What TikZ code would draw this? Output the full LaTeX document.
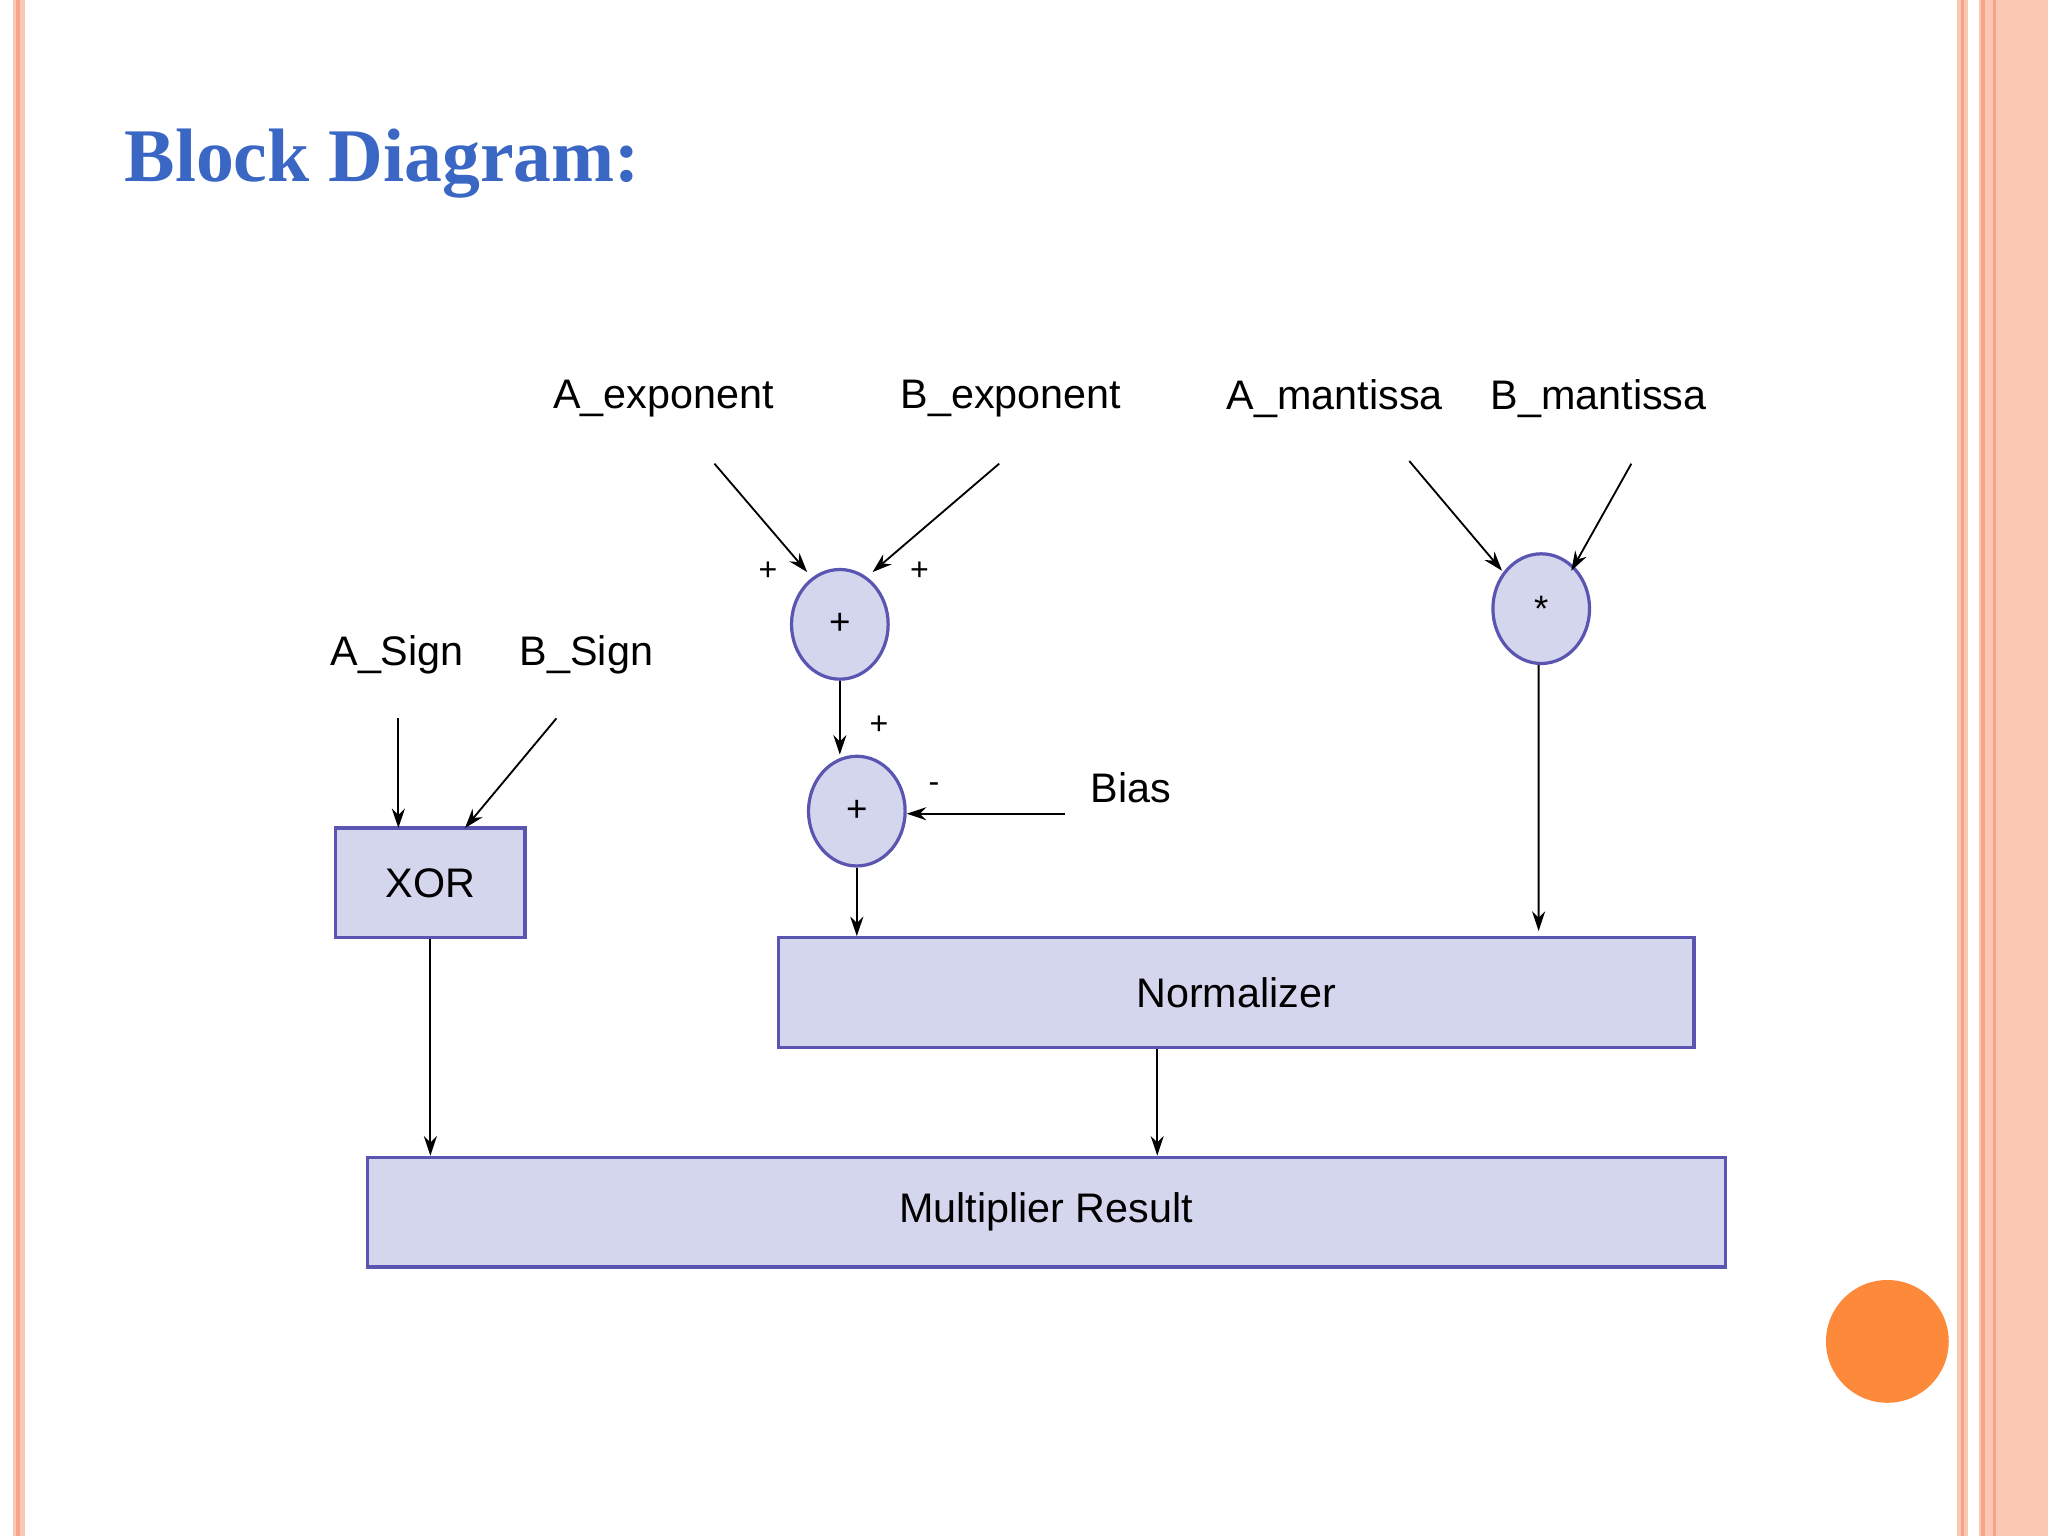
\documentclass[tikz,border=0pt]{standalone}
\usepackage{fontspec}
\setmainfont{Liberation Sans}
\newfontfamily\titlefont{Liberation Serif}
\usetikzlibrary{arrows.meta,shapes.geometric}
\definecolor{nfill}{HTML}{D4D6EE}
\definecolor{ndraw}{HTML}{5A55B0}
\definecolor{ttl}{HTML}{3A66C4}
\definecolor{pinkl}{HTML}{F6A58C}
\definecolor{pinkb}{HTML}{FBC8B4}
\definecolor{orng}{HTML}{FD8A3B}
\begin{document}
\begin{tikzpicture}[x=0.02cm,y=-0.02cm,
  blk/.style={draw=ndraw,fill=nfill,line width=1.4pt,inner sep=0pt},
  circ/.style={blk,ellipse,minimum width=1.48cm,minimum height=1.68cm,font=\fontsize{16}{18}\selectfont},
  lbl/.style={font=\fontsize{18}{20}\selectfont,inner sep=0pt},
  sm/.style={font=\fontsize{14}{16}\selectfont,inner sep=0pt},
  arr/.style={-{Stealth[length=0.3cm,width=0.2cm]},line width=0.8pt}]
\useasboundingbox (0,0) rectangle (1568,1176);
\fill[white] (0,0) rectangle (1568,1176);
% borders
\fill[pinkb] (10,0) rectangle (19,1176);
\fill[pinkl] (12,0) rectangle (15,1176);
\fill[pinkb] (1498,0) rectangle (1507,1176);
\fill[pinkl] (1501,0) rectangle (1504,1176);
\fill[pinkb] (1515,0) rectangle (1568,1176);
\fill[pinkl] (1517,0) rectangle (1520,1176);
\fill[pinkl] (1526,0) rectangle (1528,1176);
\fill[orng] (1445,1027) circle (47);
\node[anchor=west,inner sep=0pt,text=ttl,font=\titlefont\bfseries\fontsize{33}{36}\selectfont] (title) at (95,125) {Block Diagram:};
% nodes
\node[circ] (add1) at (643,478) {+};
\node[circ] (add2) at (656,621) {+};
\node[circ] (mul) at (1180,466) {*};
\node[blk,minimum width=2.9cm,minimum height=1.68cm,lbl] (xor) at (329.5,676) {XOR};
\node[blk,minimum width=14.02cm,minimum height=1.68cm,lbl] (norm) at (946.5,760) {Normalizer};
\node[blk,minimum width=20.8cm,minimum height=1.68cm,lbl] (res) at (801,928) {Multiplier Result};
\node[lbl] (ae) at (508,305) {A\_exponent};
\node[lbl] (be) at (774,305) {B\_exponent};
\node[lbl] (am) at (1022,305) {A\_mantissa};
\node[lbl] (bm) at (1224,305) {B\_mantissa};
\node[lbl] (as) at (304,501) {A\_Sign};
\node[lbl] (bs) at (449,501) {B\_Sign};
\node[lbl] (bias) at (866,603) {Bias};
\node[sm] (p1) at (588,437) {+};
\node[sm] (p2) at (704,437) {+};
\node[sm] (p3) at (673,555) {+};
\node[sm] (m1) at (715,603) {-};
% free ends
\coordinate (ae1) at (547,355); \coordinate (ae2) at (618,438);
\coordinate (be1) at (765,355); \coordinate (be2) at (668,438);
\coordinate (am1) at (1079,353); \coordinate (am2) at (1150,437);
\coordinate (bm1) at (1249,355); \coordinate (bm2) at (1203,437);
\coordinate (as1) at (305,550); \coordinate (as2) at (305,634);
\coordinate (bs1) at (426,550); \coordinate (bs2) at (356,634);
\coordinate (bi1) at (815,623);
\draw[arr] (ae1) -- (ae2);
\draw[arr] (be1) -- (be2);
\draw[arr] (am1) -- (am2);
\draw[arr] (bm1) -- (bm2);
\draw[arr] (as1) -- (as2);
\draw[arr] (bs1) -- (bs2);
\draw[arr] (add1.south) -- (add2.north -| add1.south);
\draw[arr] (bi1) -- (add2.east |- bi1);
\draw[arr] (add2.south) -- (norm.north -| add2.south);
\draw[arr] ([xshift=-0.04cm]mul.south) -- ([yshift=0.08cm]norm.north -| 1178,0);
\draw[arr] (xor.south) -- (res.north -| xor.south);
\draw[arr] (norm.south -| 886,0) -- (res.north -| 886,0);
\end{tikzpicture}
\end{document}
